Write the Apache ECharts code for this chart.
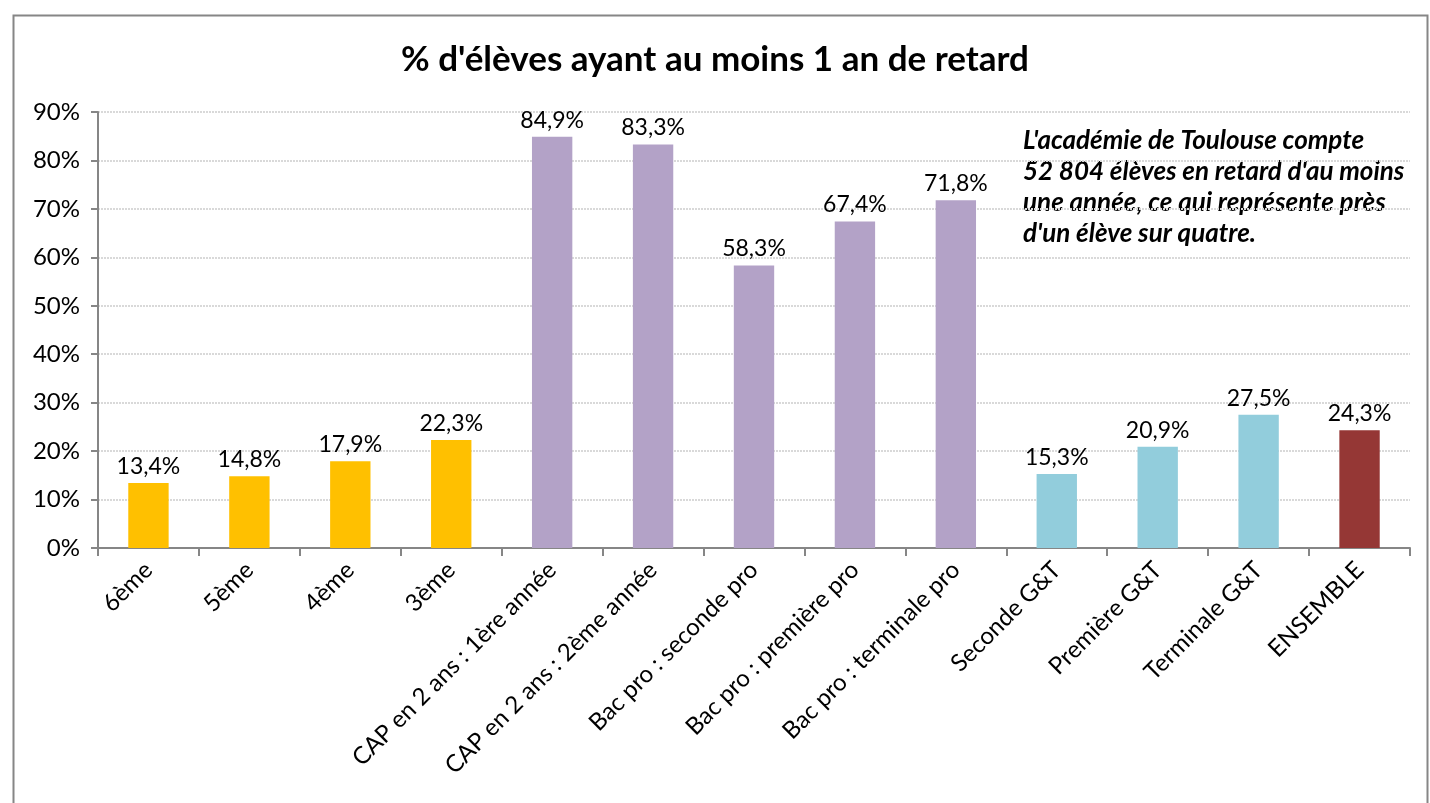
<!DOCTYPE html>
<html>
<head>
<meta charset="utf-8">
<script src="https://cdn.jsdelivr.net/npm/echarts@6/dist/echarts.min.js"></script>
<style>
html,body{margin:0;padding:0;background:#fff}
#main{width:1430px;height:803px}
</style>
</head>
<body>
<div id="main"></div>
<script>
// data
var categories = ['6ème','5ème','4ème','3ème','CAP en 2 ans : 1ère année','CAP en 2 ans : 2ème année',
  'Bac pro : seconde pro','Bac pro : première pro','Bac pro : terminale pro',
  'Seconde G&T','Première G&T','Terminale G&T','ENSEMBLE'];
var values = [13.4,14.8,17.9,22.3,84.9,83.3,58.3,67.4,71.8,15.3,20.9,27.5,24.3];
var groups = ['college','college','college','college','pro','pro','pro','pro','pro','gt','gt','gt','total'];
var note = "L'académie de Toulouse compte\n52 804 élèves en retard d'au moins\nune année, ce qui représente près\nd'un élève sur quatre.";

var groupColor = {college:'#FFC000', pro:'#B3A2C7', gt:'#92CDDC', total:'#953735'};
var font = 'Lato, "Open Sans", sans-serif';

var chart = echarts.init(document.getElementById('main'));
chart.setOption({
  animation:false,
  backgroundColor:'#fff',
  textStyle:{fontFamily:font},
  title:{
    text:"% d'élèves ayant au moins 1 an de retard",
    left:'center', top:37,
    textStyle:{fontSize:35, fontWeight:'bold', color:'#000', fontFamily:font}
  },
  graphic:[
    {type:'rect', left:11, top:13, shape:{width:1414, height:820},
      style:{fill:null, stroke:'#868686', lineWidth:2}, silent:true},
    {type:'text', left:1023, top:125,
      style:{text:note, fontSize:26, fontStyle:'italic', fontWeight:'bold',
        lineHeight:31, fill:'#000', fontFamily:font}}
  ],
  grid:{left:98, right:20, top:112, bottom:255, containLabel:false},
  xAxis:{
    type:'category', data:categories,
    axisLine:{lineStyle:{color:'#868686', width:2}},
    axisTick:{show:true, length:8, lineStyle:{color:'#868686', width:2}},
    axisLabel:{rotate:45, fontSize:24, color:'#000', margin:18, interval:0}
  },
  yAxis:{
    type:'value', min:0, max:90, interval:10,
    axisLine:{show:true, lineStyle:{color:'#868686', width:2}},
    axisTick:{show:true, length:7, lineStyle:{color:'#868686', width:2}},
    axisLabel:{fontSize:24, color:'#000', margin:18, formatter:function(v){return v+'%';}},
    splitLine:{lineStyle:{color:'#d9d9d9', width:2, type:[2,1]}}
  },
  series:[{
    type:'bar', barWidth:'40%',
    data:values.map(function(v,i){return {value:v, itemStyle:{color:groupColor[groups[i]]}};}),
    label:{show:true, position:'top', distance:5, fontSize:23, color:'#000',
      formatter:function(p){return p.value.toFixed(1).replace('.',',')+'%';}}
  }]
});
</script>
</body>
</html>
